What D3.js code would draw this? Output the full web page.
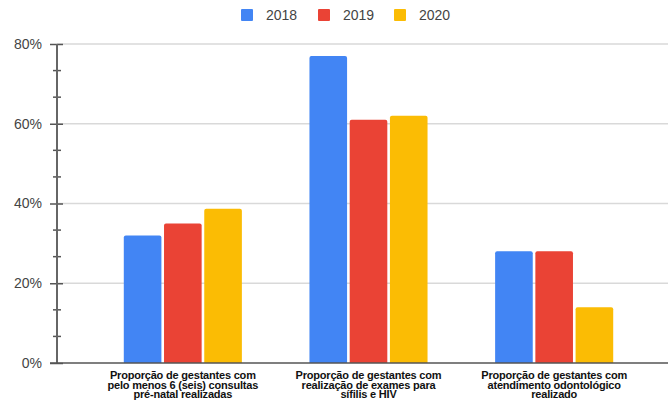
<!DOCTYPE html>
<html>
<head>
<meta charset="utf-8">
<script src="https://cdn.jsdelivr.net/npm/d3@7"></script>
<style>
  body { margin: 0; background: #fff; }
  svg { display: block; font-family: Arial, "Liberation Sans", sans-serif; }
</style>
</head>
<body>
<div id="chart"></div>
<script>
// Grouped bars

var categories = [
    ["Proporção de gestantes com", "pelo menos 6 (seis) consultas", "pré-natal realizadas"],
    ["Proporção de gestantes com", "realização de exames para", "sífilis e HIV"],
    ["Proporção de gestantes com", "atendimento odontológico", "realizado"]
];
var years = ["2018", "2019", "2020"];
var values2018 = [32, 77, 28];
var values2019 = [35, 61, 28];
var values2020 = [38.7, 62, 14];
var yTicks = [0, 20, 40, 60, 80];
var colors = ["#4285F4", "#EA4335", "#FBBC04"];

var series = [values2018, values2019, values2020];

var svgWidth = 668, svgHeight = 405;

var svg = d3.select("#chart")
    .append("svg")
        .attr("width", svgWidth)
        .attr("height", svgHeight);

var y = d3.scaleLinear()
    .domain([0, 80])
    .range([363, 44]);

var x = d3.scaleBand()
    .domain(d3.range(categories.length))
    .range([90, 647])
    .paddingInner(0.364)
    .paddingOuter(0.182);

var xs = d3.scaleBand()
    .domain(years)
    .range([0, x.bandwidth()])
    .paddingInner(0.065);

// gridlines
svg.append("g")
    .selectAll("line")
    .data(yTicks.slice(1))
    .enter().append("line")
        .attr("x1", 57)
        .attr("x2", svgWidth)
        .attr("y1", function(d) { return y(d); })
        .attr("y2", function(d) { return y(d); })
        .attr("stroke", "#d9d9d9")
        .attr("stroke-width", 1.5);

// bars
series.forEach(function(vals, si) {
    svg.append("g")
        .selectAll("path")
        .data(vals)
        .enter().append("path")
            .attr("d", function(d, i) {
                var x0 = x(i) + xs(years[si]), w = xs.bandwidth();
                var y0 = y(d), y1 = y(0), r = 2;
                return "M" + x0 + "," + y1 +
                    "V" + (y0 + r) + "Q" + x0 + "," + y0 + " " + (x0 + r) + "," + y0 +
                    "H" + (x0 + w - r) + "Q" + (x0 + w) + "," + y0 + " " + (x0 + w) + "," + (y0 + r) +
                    "V" + y1 + "Z";
            })
            .attr("fill", colors[si]);
});

// y axis
var yAxis = svg.append("g")
    .attr("transform", "translate(57,0)")
    .call(d3.axisLeft(y).tickValues(yTicks).tickSize(7).tickFormat(function(d) { return d + "%"; }));
yAxis.select(".domain").remove();
yAxis.selectAll(".tick line")
    .attr("x2", 6)
    .attr("x1", -7)
    .attr("stroke", "#555")
    .attr("stroke-width", 1.5);
yAxis.selectAll("text")
    .attr("x", -15)
    .attr("fill", "#444")
    .style("font-size", "14px");

// minor ticks
var minor = [];
yTicks.slice(0, -1).forEach(function(t) { minor.push(t + 20 / 3, t + 40 / 3); });
svg.append("g")
    .selectAll("line")
    .data(minor)
    .enter().append("line")
        .attr("x1", 53)
        .attr("x2", 61)
        .attr("y1", function(d) { return y(d); })
        .attr("y2", function(d) { return y(d); })
        .attr("stroke", "#555")
        .attr("stroke-width", 1.5);

svg.append("line")
    .attr("x1", 57).attr("x2", 57)
    .attr("y1", y(80)).attr("y2", y(0))
    .attr("stroke", "#666")
    .attr("stroke-width", 2);

// baseline
svg.append("line")
    .attr("x1", 50).attr("x2", svgWidth)
    .attr("y1", y(0)).attr("y2", y(0))
    .attr("stroke", "#555")
    .attr("stroke-width", 1.5);

// category labels
var lab = svg.append("g")
    .selectAll("text")
    .data(categories)
    .enter().append("text")
        .attr("text-anchor", "middle")
        .attr("fill", "#111")
        .style("font-size", "11px")
        .style("letter-spacing", "-0.2px")
        .style("font-weight", "bold");
lab.selectAll("tspan")
    .data(function(d, i) { return d.map(function(s) { return { s: s, i: i }; }); })
    .enter().append("tspan")
        .attr("x", function(d) { return x(d.i) + x.bandwidth() / 2; })
        .attr("y", function(d, j) { return 379 + j * 9.5; })
        .text(function(d) { return d.s; });

// legend
var legendX = [241, 318, 394];
var legendG = svg.append("g").attr("class", "legend");
years.forEach(function(yr, i) {
    legendG.append("rect")
        .attr("x", legendX[i]).attr("y", 9)
        .attr("width", 12).attr("height", 12)
        .attr("rx", 1)
        .attr("fill", colors[i]);
    legendG.append("text")
        .attr("x", legendX[i] + 25)
        .attr("y", 20)
        .attr("fill", "#444")
        .style("font-size", "14px")
        .text(yr);
});
</script>
</body>
</html>
